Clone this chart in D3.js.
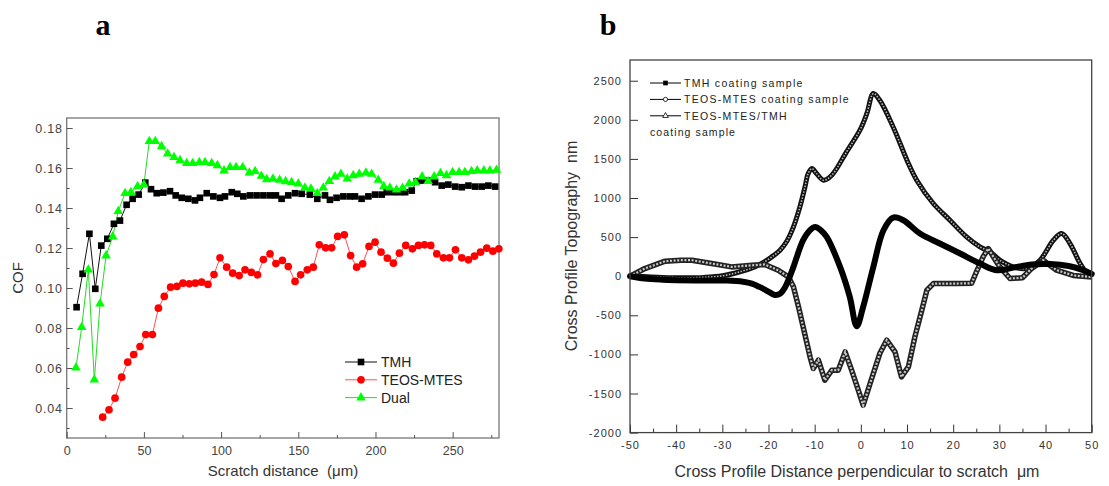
<!DOCTYPE html>
<html><head><meta charset="utf-8">
<script src="https://cdn.jsdelivr.net/npm/d3@7"></script>
<style>
html,body{margin:0;padding:0;background:#fff;}
svg{display:block;font-family:"Liberation Sans",Arial,sans-serif;}
text{white-space:pre;}
</style></head>
<body>
<svg id="c" width="1109" height="486"></svg>
<script>
// ---------- Panel a data: [scratch distance (µm), COF] ----------
const tmhCOF = [[6.4,0.0904],[10.3,0.1071],[14.7,0.1271],[18.5,0.0996],[22.4,0.1212],[26.3,0.1246],[30.6,0.1321],[34.5,0.1337],[38.8,0.1416],[42.7,0.1446],[46.6,0.1467],[50.9,0.1527],[54.6,0.1494],[58.3,0.1474],[62.6,0.1477],[66.9,0.1484],[70.6,0.1463],[74.5,0.1451],[78.8,0.1446],[83.1,0.1438],[86.3,0.1451],[90.7,0.1474],[95,0.1458],[99.3,0.1451],[102.5,0.1458],[106.9,0.1479],[110.5,0.1471],[114.4,0.1458],[118.7,0.1463],[123,0.1463],[127.4,0.1463],[131.7,0.1463],[135.5,0.1463],[139.2,0.1446],[143.5,0.1463],[147.9,0.1474],[152.2,0.1471],[157.5,0.1467],[162.3,0.1446],[167.3,0.1463],[170.5,0.1441],[174.8,0.1451],[179.2,0.1458],[183.5,0.1458],[186.7,0.1458],[191,0.1446],[195.4,0.1458],[199.7,0.1467],[204,0.1467],[207.3,0.1479],[211.6,0.1479],[215.5,0.1479],[219.2,0.1479],[223.5,0.1487],[226.7,0.1534],[231,0.1537],[235.4,0.1537],[238.6,0.1529],[242.9,0.1512],[247.2,0.1517],[251.6,0.1507],[255.9,0.1504],[260.2,0.1512],[264.5,0.1507],[268.8,0.1507],[273.1,0.1512],[277.5,0.1507]];
const teosCOF = [[23.3,0.0354],[27.4,0.0391],[31.3,0.0449],[35.6,0.0554],[39.5,0.0629],[43.4,0.0667],[47.5,0.0707],[51.2,0.0767],[55.5,0.0767],[59.4,0.0899],[63.2,0.0958],[67.3,0.1004],[71.4,0.1008],[75.3,0.1024],[79.4,0.1021],[83.3,0.1024],[87.4,0.1029],[91.5,0.1018],[95.4,0.1067],[99.3,0.1151],[103.6,0.1104],[107.5,0.1074],[111.7,0.1062],[115.5,0.1091],[119.6,0.1078],[123.6,0.1066],[127.4,0.1142],[131.7,0.1171],[135.5,0.1122],[139.7,0.1138],[143.5,0.1107],[147.9,0.1033],[151.5,0.1066],[155.8,0.1091],[159.7,0.1104],[163.6,0.1216],[167.7,0.1201],[171.6,0.1201],[175.5,0.1258],[179.8,0.1266],[183.9,0.1162],[187.8,0.1104],[191.7,0.1121],[195.8,0.1208],[199.7,0.1229],[203.6,0.1179],[207.7,0.1149],[211.6,0.1124],[215.5,0.1174],[219.6,0.1213],[223.9,0.1196],[227.8,0.1213],[231.7,0.1216],[235.8,0.1213],[239.7,0.1171],[244,0.1151],[247.9,0.1151],[251.8,0.1191],[255.9,0.1151],[260.2,0.1141],[264.1,0.1159],[268,0.1179],[272.1,0.1199],[276,0.1184],[279.9,0.1196]];
const dualCOF = [[6,0.0601],[9.7,0.0804],[14,0.1091],[17.9,0.0541],[21.6,0.0921],[25.5,0.1162],[29.8,0.1257],[33.4,0.1384],[37.8,0.1474],[41.6,0.1479],[45.9,0.1508],[50,0.1517],[53.5,0.1734],[57.4,0.1734],[61.5,0.1708],[65.4,0.1671],[69.5,0.1654],[73.4,0.1638],[77.7,0.1624],[81.6,0.1624],[85.9,0.1629],[89.6,0.1629],[93.9,0.1624],[97.6,0.1613],[101.9,0.1587],[105.8,0.1604],[109.7,0.1604],[114,0.1604],[118.3,0.1576],[122,0.1584],[126.1,0.156],[129.5,0.1543],[133.6,0.1546],[137.9,0.154],[141.8,0.1533],[145.7,0.1529],[150,0.1521],[154.3,0.1501],[158.2,0.1496],[162.3,0.1474],[166.2,0.1501],[170.1,0.1534],[173.8,0.1557],[177.6,0.157],[181.7,0.1546],[185.6,0.1563],[189.5,0.157],[193.8,0.1576],[197.5,0.157],[201.8,0.154],[205.4,0.1508],[209.3,0.1501],[213.6,0.1491],[217.5,0.15],[221.8,0.1521],[225.9,0.1529],[230.2,0.1557],[234.1,0.1534],[238,0.1557],[242.1,0.1574],[246,0.1563],[249.9,0.1579],[254.2,0.1579],[257.9,0.1579],[262.2,0.1584],[265.9,0.1587],[270.2,0.1587],[274.1,0.1587],[278.4,0.159]];
const aSeriesNames = ["TMH","TEOS-MTES","Dual"];
const aXTicks = [0,50,100,150,200,250];
const aXMinor = [25,75,125,175,225,275];
const aYTicks = [0.04,0.06,0.08,0.10,0.12,0.14,0.16,0.18];
const aYMinor = [0.03,0.05,0.07,0.09,0.11,0.13,0.15,0.17];

// ---------- Panel b data: [distance (µm), topography (nm)] ----------
const tmhProfile = [[-50,0],[-46.8,-30],[-43,-45],[-40,-51],[-35,-55],[-29,-55],[-25.5,-70],[-23.6,-94],[-21.5,-150],[-19.5,-215],[-18.6,-240],[-17.5,-225],[-16.5,-150],[-15.5,-20],[-14.6,119],[-12.5,460],[-11,590],[-9.9,630],[-8.7,590],[-7.4,503],[-4.5,119],[-2.4,-264],[-0.9,-640],[0.5,-392],[2.7,119],[4.9,588],[7,750],[9.2,716],[12.8,546],[17.1,418],[21.5,290],[25.8,162],[29.4,77],[33,110],[37,150],[41,155],[45,130],[48,80],[50,30]];
const teosProfile = [[-50,0],[-47,-5],[-43,-15],[-38,-20],[-34,-15],[-30,5],[-26,60],[-23,120],[-21,180],[-19,260],[-17.5,332],[-16,450],[-14.6,630],[-13.2,886],[-12.1,1142],[-11.4,1313],[-10.6,1377],[-9.6,1313],[-8.1,1228],[-6.3,1292],[-3.1,1590],[-0.2,1867],[1.3,2081],[2.7,2336],[4.1,2250],[7,1909],[10.3,1441],[12.1,1228],[15.7,930],[19.3,716],[22.9,503],[25.8,375],[28,311],[30.1,205],[33,119],[36,100],[38.8,205],[41.7,460],[43.5,546],[45.3,418],[47.5,162],[49.3,13],[50,0]];
const dualProfile = [[-50,0],[-46.8,98],[-42.4,192],[-39,205],[-36.6,205],[-32.3,162],[-28,119],[-23.6,140],[-20.8,150],[-17.9,77],[-15.7,-8],[-14.6,-136],[-13.5,-392],[-12.5,-648],[-11,-1032],[-10.3,-1180],[-9.2,-1074],[-7.8,-1330],[-6.3,-1202],[-4.9,-1202],[-3.4,-968],[-2,-1202],[-0.55,-1458],[0.5,-1650],[2,-1372],[4.1,-989],[5.6,-818],[7.4,-968],[8.8,-1288],[10.3,-1160],[11.7,-776],[13.2,-435],[14.3,-179],[15.7,-94],[20.8,-94],[24,-90],[25,50],[26.5,250],[27.6,354],[29,220],[30.1,119],[32.3,-30],[35,-20],[37,100],[39.5,205],[42.4,77],[46,10],[50,-10]];
const bLegend = ["TMH coating sample","TEOS-MTES coating sample","TEOS-MTES/TMH"];
const bXTicks = [-50,-40,-30,-20,-10,0,10,20,30,40,50];
const bXMinor = [-45,-35,-25,-15,-5,5,15,25,35,45];
const bYTicks = [-2000,-1500,-1000,-500,0,500,1000,1500,2000,2500];

const svg = d3.select("#c");
const plainNum = d => String(d);

// ================= Panel a =================
const ax = d3.scaleLinear().domain([0,280]).range([66.7,499]);
const ay = d3.scaleLinear().domain([0.025,0.185]).range([438,118]);
const ga = svg.append("g");

ga.append("text").attr("x",103).attr("y",35).attr("text-anchor","middle")
  .attr("font-family","'Liberation Serif','Times New Roman',serif").attr("font-weight","bold")
  .attr("font-size",30).text("a");

ga.append("rect").attr("x",ax(0)).attr("y",ay(0.185)).attr("width",ax(280)-ax(0)).attr("height",ay(0.025)-ay(0.185))
  .attr("fill","none").attr("stroke","#777").attr("stroke-width",1.3);

function styleAxis(g, col){
  g.select(".domain").remove();
  g.selectAll("line").attr("stroke",col);
  g.selectAll("text").attr("fill","#444");
}
const axB = ga.append("g").attr("transform",`translate(0,${ay(0.025)})`)
  .call(d3.axisBottom(ax).tickValues(aXTicks).tickSize(-6).tickPadding(8).tickFormat(plainNum));
styleAxis(axB,"#555"); axB.selectAll("text").attr("font-size",12.5);
const axBm = ga.append("g").attr("transform",`translate(0,${ay(0.025)})`)
  .call(d3.axisBottom(ax).tickValues(aXMinor).tickSize(-3).tickFormat(""));
styleAxis(axBm,"#555");
const ayL = ga.append("g").attr("transform",`translate(${ax(0)},0)`)
  .call(d3.axisLeft(ay).tickValues(aYTicks).tickSize(-6).tickPadding(4).tickFormat(d3.format(".2f")));
styleAxis(ayL,"#555"); ayL.selectAll("text").attr("font-size",12.5).attr("letter-spacing","0.8px");
const ayLm = ga.append("g").attr("transform",`translate(${ax(0)},0)`)
  .call(d3.axisLeft(ay).tickValues(aYMinor).tickSize(-3).tickFormat(""));
styleAxis(ayLm,"#555");

ga.append("text").attr("transform",`translate(23,${(ay(0.025)+ay(0.185))/2}) rotate(-90)`)
  .attr("text-anchor","middle").attr("font-size",15).attr("fill","#333").text("COF");
ga.append("text").attr("x",283).attr("y",476).attr("text-anchor","middle")
  .attr("font-size",15).attr("fill","#333").text("Scratch distance\u00a0\u00a0(\u03bcm)");

const aStyles = [
  {data:tmhCOF, line:"#111", fill:"#000", shape:d3.symbolSquare, size:44},
  {data:teosCOF, line:"#ff5050", fill:"#ff0000", shape:d3.symbolCircle, size:46},
  {data:dualCOF, line:"#22dd22", fill:"#00ff00", shape:d3.symbolTriangle, size:40}
];
const aLine = d3.line().x(d=>ax(d[0])).y(d=>ay(d[1]));
aStyles.forEach(s=>{
  ga.append("path").attr("d",aLine(s.data)).attr("fill","none").attr("stroke",s.line).attr("stroke-width",1);
});
aStyles.forEach(s=>{
  ga.append("g").selectAll("path").data(s.data).join("path")
    .attr("transform",d=>`translate(${ax(d[0])},${ay(d[1])})`)
    .attr("d",d3.symbol().type(s.shape).size(s.size)).attr("fill",s.fill);
});
aSeriesNames.forEach((n,i)=>{
  const yy = 362 + i*17.8, s = aStyles[i];
  ga.append("line").attr("x1",345).attr("x2",377).attr("y1",yy).attr("y2",yy).attr("stroke",s.line).attr("stroke-width",1);
  ga.append("path").attr("transform",`translate(361,${yy})`).attr("d",d3.symbol().type(s.shape).size(s.size)).attr("fill",s.fill);
  ga.append("text").attr("x",381).attr("y",yy+5).attr("font-size",14).attr("fill","#222").text(n);
});

// ================= Panel b =================
const bx = d3.scaleLinear().domain([-50,50]).range([630,1091.7]);
const by = d3.scaleLinear().domain([-2000,2765]).range([432.6,60]);
const gb = svg.append("g");

gb.append("text").attr("x",608).attr("y",35).attr("text-anchor","middle")
  .attr("font-family","'Liberation Serif','Times New Roman',serif").attr("font-weight","bold")
  .attr("font-size",30).text("b");

const bxB = gb.append("g").attr("transform",`translate(0,${by(-2000)})`)
  .call(d3.axisBottom(bx).tickValues(bXTicks).tickSize(-8).tickPadding(9).tickFormat(plainNum));
styleAxis(bxB,"#333"); bxB.selectAll("text").attr("font-size",11).attr("letter-spacing","1px").attr("fill","#333");
const bxBm = gb.append("g").attr("transform",`translate(0,${by(-2000)})`)
  .call(d3.axisBottom(bx).tickValues(bXMinor).tickSize(-4).tickFormat(""));
styleAxis(bxBm,"#333");
const byL = gb.append("g").attr("transform",`translate(${bx(-50)},0)`)
  .call(d3.axisLeft(by).tickValues(bYTicks).tickSize(-8).tickPadding(8).tickFormat(plainNum));
styleAxis(byL,"#333"); byL.selectAll("text").attr("font-size",11).attr("letter-spacing","1px").attr("fill","#333");

gb.append("text").attr("transform",`translate(577,${246}) rotate(-90)`)
  .attr("text-anchor","middle").attr("font-size",16).attr("fill","#333").text("Cross Profile Topography\u00a0\u00a0nm");
gb.append("text").attr("x",857).attr("y",477).attr("text-anchor","middle")
  .attr("font-size",16).attr("fill","#333").text("Cross Profile Distance perpendicular to scratch\u00a0\u00a0\u03bcm");

const bSmooth = d3.line().x(d=>bx(d[0])).y(d=>by(d[1])).curve(d3.curveCatmullRom.alpha(0.5));
const bLin = d3.line().x(d=>bx(d[0])).y(d=>by(d[1]));
const plot = gb.append("g");
plot.append("path").attr("d",bSmooth(teosProfile)).attr("fill","none").attr("stroke","#111")
  .attr("stroke-width",5).attr("stroke-linejoin","round");
plot.append("path").attr("d",bSmooth(teosProfile)).attr("fill","none").attr("stroke","#bbb")
  .attr("stroke-width",1.6).attr("stroke-dasharray","1.5,1.5");
plot.append("path").attr("d",bLin(dualProfile)).attr("fill","none").attr("stroke","#222")
  .attr("stroke-width",5.5).attr("stroke-linejoin","round");
plot.append("path").attr("d",bLin(dualProfile)).attr("fill","none").attr("stroke","#c8c8c8")
  .attr("stroke-width",2.2).attr("stroke-dasharray","2,1.6");
plot.append("path").attr("d",bSmooth(tmhProfile)).attr("fill","none").attr("stroke","#000")
  .attr("stroke-width",6).attr("stroke-linejoin","round").attr("stroke-linecap","round");

gb.append("rect").attr("x",bx(-50)).attr("y",by(2765)).attr("width",bx(50)-bx(-50)).attr("height",by(-2000)-by(2765))
  .attr("fill","none").attr("stroke","#444").attr("stroke-width",1.3);

const bSym = [
  {shape:d3.symbolSquare,size:22,fill:"#000",stroke:"none"},
  {shape:d3.symbolCircle,size:14,fill:"#fff",stroke:"#000"},
  {shape:d3.symbolTriangle,size:14,fill:"#fff",stroke:"#000"}
];
bLegend.forEach((n,i)=>{
  const yy = 83 + i*16.4;
  gb.append("line").attr("x1",650).attr("x2",681).attr("y1",yy).attr("y2",yy).attr("stroke","#000").attr("stroke-width",1);
  gb.append("path").attr("transform",`translate(665.5,${yy})`).attr("d",d3.symbol().type(bSym[i].shape).size(bSym[i].size))
    .attr("fill",bSym[i].fill).attr("stroke",bSym[i].stroke).attr("stroke-width",0.8);
  gb.append("text").attr("x",684).attr("y",yy+4).attr("font-size",10.5).attr("letter-spacing","1.3px").attr("fill","#222").text(n);
});
gb.append("text").attr("x",650).attr("y",136).attr("font-size",10.5).attr("letter-spacing","1.1px").attr("fill","#222").text("coating sample");
</script>
</body></html>
